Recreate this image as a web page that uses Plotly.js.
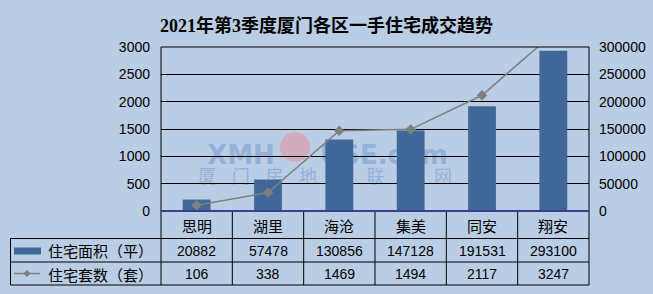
<!DOCTYPE html>
<html><head><meta charset="utf-8">
<script src="https://cdn.plot.ly/plotly-3.0.1.min.js"></script>
<style>html,body{margin:0;padding:0;background:#b9cde5;}</style>
</head><body><div id="chart" style="width:653px;height:294px;"></div>
<script>
const categories = ['思明','湖里','海沧','集美','同安','翔安'];
const areaValues = [20882,57478,130856,147128,191531,293100];
const unitValues = [106,338,1469,1494,2117,3247];
const areaName = '住宅面积（平）';
const unitName = '住宅套数（套）';
const leftTicks = [0,500,1000,1500,2000,2500,3000];
const rightTicks = [0,50000,100000,150000,200000,250000,300000];
const titleText = '2021年第3季度厦门各区一手住宅成交趋势';

const W = 653, H = 294;
const PL = 161, PR = 589, PT = 47, PB = 211;
const px2x = p => (p - PL) / (PR - PL);
const px2y = p => 1 - (p - PT) / (PB - PT);

const BG = '#b9cde5', BAR = '#3f6899', LINE = '#7f7f7f';
const CJK = '"Noto Sans CJK SC", sans-serif';
const NUM = '"Liberation Sans", Arial, sans-serif';

const traces = [
  {type:'bar', x:categories, y:areaValues, name:areaName, yaxis:'y',
   marker:{color:BAR}, width:0.39, hoverinfo:'skip'},
  {type:'scatter', mode:'lines+markers', x:categories, y:unitValues, name:unitName, yaxis:'y2',
   line:{color:LINE, width:1.5}, marker:{symbol:'diamond', size:8, color:LINE}, hoverinfo:'skip'}
];

const shapes = [];
const annotations = [];
const tblL = px2x(10.5);
const rowY = [px2y(211), px2y(238.5), px2y(262), px2y(285)];
// watermark (below gridlines)
const wmColor = 'rgba(135,168,214,0.75)';
function wmLabel(x0,x1,y0,y1,text,size,weight){
  shapes.push({type:'rect', xref:'paper', yref:'paper', layer:'below',
    x0:px2x(x0), x1:px2x(x1), y0:px2y(y1), y1:px2y(y0), line:{width:0}, fillcolor:'rgba(0,0,0,0)',
    label:{text:text, textposition:'middle center', font:{family:'"DejaVu Sans", sans-serif', size:size, color:wmColor, weight:weight}}});
}
wmLabel(200,282,140,166,'XMH',26,'bold');
wmLabel(308,460,140,166,'USE.com',26,'bold');
shapes.push({type:'circle', xref:'paper', yref:'paper', layer:'below',
  x0:px2x(280), x1:px2x(310), y0:px2y(162), y1:px2y(132), line:{width:0}, fillcolor:'rgba(226,150,160,0.6)'});
'厦门房地产联合网'.split('').forEach((ch,i)=>{
  const cx = 207 + i*33.7;
  shapes.push({type:'rect', xref:'paper', yref:'paper', layer:'below',
    x0:px2x(cx-12), x1:px2x(cx+12), y0:px2y(190), y1:px2y(166), line:{width:0}, fillcolor:'rgba(0,0,0,0)',
    label:{text:ch, textposition:'middle center', font:{family:CJK, size:18, color:wmColor}}});
});
// plot border
shapes.push({type:'rect', xref:'paper', yref:'paper', x0:0, x1:1, y0:0, y1:1, line:{color:'#000', width:1}, layer:'above'});
// table
[1,2,3].forEach(r=>shapes.push({type:'line', xref:'paper', yref:'paper', x0:tblL, x1:1, y0:rowY[r], y1:rowY[r], line:{color:'#000', width:1}}));
shapes.push({type:'line', xref:'paper', yref:'paper', x0:tblL, x1:tblL, y0:rowY[1], y1:rowY[3], line:{color:'#000', width:1}});
for (let k=0;k<=categories.length;k++){
  const xx = k/categories.length;
  shapes.push({type:'line', xref:'paper', yref:'paper', x0:xx, x1:xx, y0:rowY[0], y1:rowY[3], line:{color:'#000', width:1}});
}
shapes.push({type:'line', xref:'paper', yref:'paper', x0:0, x1:1, y0:rowY[0], y1:rowY[0], line:{color:'#3d3d8e', width:2}});
// legend keys
shapes.push({type:'rect', xref:'paper', yref:'paper', x0:px2x(14), x1:px2x(41), y0:px2y(254.5), y1:px2y(247.5), line:{width:0}, fillcolor:BAR});
shapes.push({type:'line', xref:'paper', yref:'paper', x0:px2x(14), x1:px2x(40), y0:px2y(273.5), y1:px2y(273.5), line:{color:LINE, width:1.5}});
const mx = 27, my = 273.5, d = 3.5;
shapes.push({type:'path', xref:'paper', yref:'paper', fillcolor:LINE, line:{color:LINE, width:0},
  path:`M ${px2x(mx)} ${px2y(my-d)} L ${px2x(mx+d)} ${px2y(my)} L ${px2x(mx)} ${px2y(my+d)} L ${px2x(mx-d)} ${px2y(my)} Z`});

const yMid = [px2y(225), px2y(250.5), px2y(274)];
categories.forEach((c,i)=>{
  annotations.push({xref:'x', yref:'paper', x:c, y:yMid[0], text:c, showarrow:false, xanchor:'center', yanchor:'middle', font:{family:CJK, size:15, color:'#000'}});
  annotations.push({xref:'x', yref:'paper', x:c, y:yMid[1], text:String(areaValues[i]), showarrow:false, xanchor:'center', yanchor:'middle', font:{family:NUM, size:14, color:'#000'}});
  annotations.push({xref:'x', yref:'paper', x:c, y:yMid[2], text:String(unitValues[i]), showarrow:false, xanchor:'center', yanchor:'middle', font:{family:NUM, size:14, color:'#000'}});
});
annotations.push({xref:'paper', yref:'paper', x:px2x(46), y:yMid[1], text:areaName, showarrow:false, xanchor:'left', yanchor:'middle', font:{family:CJK, size:15, color:'#000'}});
annotations.push({xref:'paper', yref:'paper', x:px2x(46), y:yMid[2], text:unitName, showarrow:false, xanchor:'left', yanchor:'middle', font:{family:CJK, size:15, color:'#000'}});

const layout = {
  width:W, height:H,
  margin:{l:PL, r:W-PR, t:PT, b:H-PB, pad:0},
  paper_bgcolor:BG, plot_bgcolor:BG,
  showlegend:false,
  title:{text:titleText, x:0.5, xref:'container', xanchor:'center', y:1-26/H, yref:'container', yanchor:'middle',
    font:{family:'"Liberation Serif", "Noto Sans CJK SC", serif', size:18, color:'#000', weight:'bold'}},
  xaxis:{type:'category', range:[-0.5, categories.length-0.5], showticklabels:false, ticks:'', showgrid:false, zeroline:false, showline:false, fixedrange:true},
  yaxis:{range:[0,300000], side:'right', tickvals:rightTicks, ticktext:rightTicks.map(String), ticks:'', ticklabelstandoff:9,
    tickfont:{family:NUM, size:14, color:'#000'}, showgrid:true, gridcolor:'#000', gridwidth:1, zeroline:false, showline:false, fixedrange:true},
  yaxis2:{range:[0,3000], side:'left', overlaying:'y', tickvals:leftTicks, ticktext:leftTicks.map(String), ticks:'', ticklabelstandoff:10,
    tickfont:{family:NUM, size:14, color:'#000'}, showgrid:false, zeroline:false, showline:false, fixedrange:true},
  bargap:0.61,
  shapes:shapes, annotations:annotations
};
Plotly.newPlot('chart', traces, layout, {staticPlot:true, displayModeBar:false});
</script></body></html>
